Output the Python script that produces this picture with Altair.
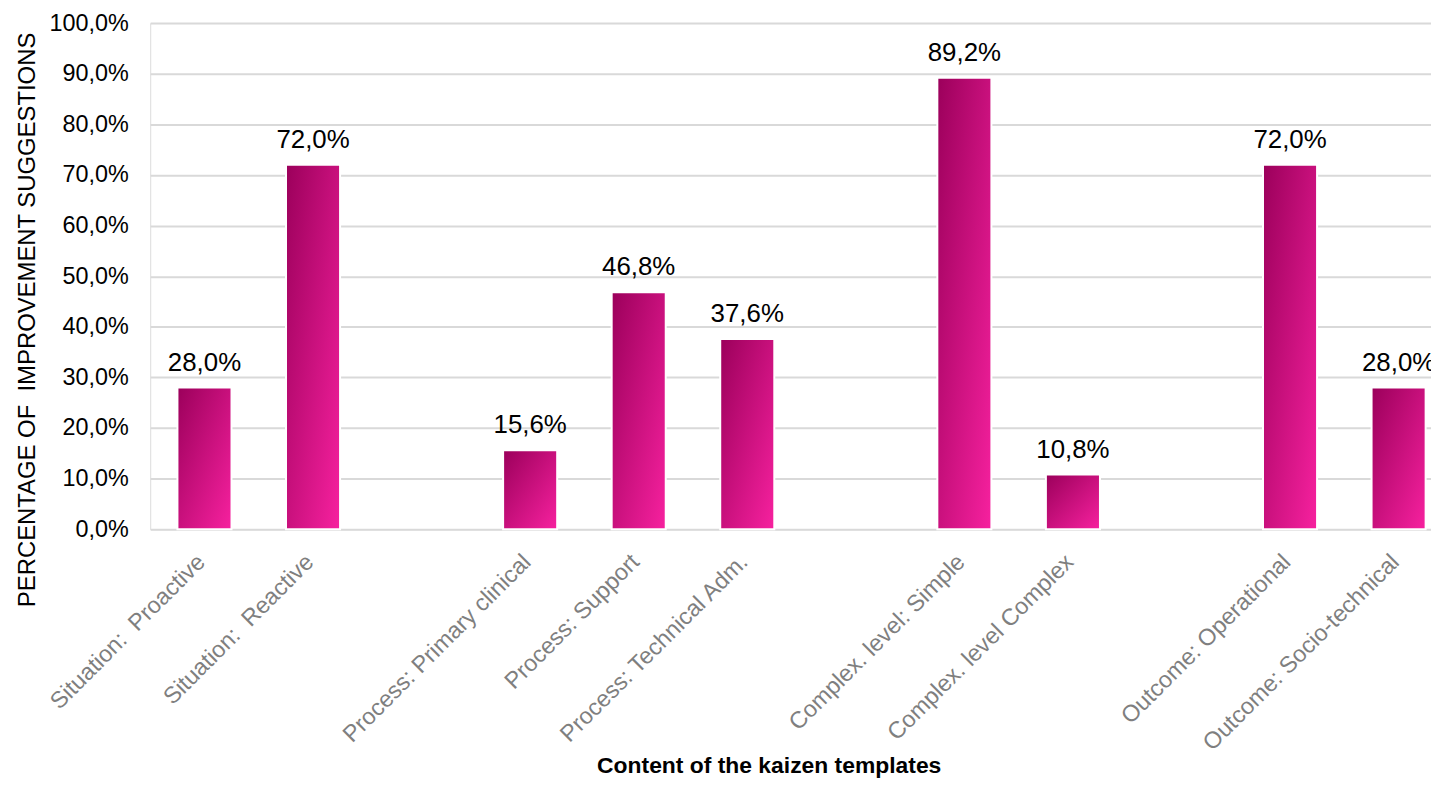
import altair as alt
import pandas as pd

NBSP = "\u00a0"

# ---- data ----
categories = [
    "Situation: " + NBSP + "Proactive",
    "Situation: " + NBSP + "Reactive",
    "Process: Primary clinical",
    "Process: Support",
    "Process: Technical Adm.",
    "Complex. level: Simple",
    "Complex. level Complex",
    "Outcome: Operational",
    "Outcome: Socio-technical",
]
values = [28.0, 72.0, 15.6, 46.8, 37.6, 89.2, 10.8, 72.0, 28.0]

# category order on the axis, with empty slots between the groups
slot_order = [
    categories[0],
    categories[1],
    "gap1",
    categories[2],
    categories[3],
    categories[4],
    "gap2",
    categories[5],
    categories[6],
    "gap3",
    categories[7],
    categories[8],
]
y_ticks = [0, 10, 20, 30, 40, 50, 60, 70, 80, 90, 100]

df = pd.DataFrame({"category": categories, "value": values})

FONT = "Liberation Sans"

x_enc = alt.X(
    "category:N",
    scale=alt.Scale(domain=slot_order, range=[0, 1310], paddingInner=0.502, paddingOuter=0.251),
    axis=alt.Axis(
        values=categories,
        title="Content of the kaizen templates",
        titleFont=FONT,
        titleFontSize=23,
        titleFontWeight="bold",
        titleColor="black",
        titleX=622,
        titleY=245,
        titleAlign="center",
        titleBaseline="alphabetic",
        labelFont=FONT,
        labelFontSize=23.5,
        labelColor="#7f7f7f",
        labelAngle=315,
        labelAlign="right",
        labelBaseline="middle",
        labelPadding=29,
        labelOffset=-3,
        labelLimit=500,
        labelOverlap=False,
        ticks=False,
        domain=False,
        grid=False,
    ),
)

y_enc = alt.Y(
    "value:Q",
    scale=alt.Scale(domain=[0, 100]),
    axis=alt.Axis(
        values=y_ticks,
        labelExpr="replace(format(datum.value, '.1f'), '.', ',') + '%'",
        labelFont=FONT,
        labelFontSize=23.5,
        labelColor="black",
        labelPadding=22,
        ticks=False,
        domain=False,
        gridColor="#d9d9d9",
        gridWidth=2,
        title="PERCENTAGE OF " + NBSP + "IMPROVEMENT SUGGESTIONS",
        titleFont=FONT,
        titleFontSize=24,
        titleFontWeight="normal",
        titleColor="black",
        titleAngle=270,
        titleX=-123,
        titleY=298,
        titleAlign="center",
        titleBaseline="middle",
    ),
)

bars = alt.Chart(df).mark_bar(
    fill=alt.Gradient(
        gradient="linear",
        x1=0, y1=0, x2=1, y2=1,
        stops=[
            alt.GradientStop(color="#9B005B", offset=0),
            alt.GradientStop(color="#F7219F", offset=1),
        ],
    ),
    stroke="white",
    strokeWidth=2,
).encode(x=x_enc, y=y_enc)

labels = alt.Chart(df).transform_calculate(
    label="replace(format(datum.value, '.1f'), '.', ',') + '%'"
).mark_text(
    font=FONT,
    fontSize=26,
    dy=-17,
    baseline="alphabetic",
    align="center",
    color="black",
).encode(x=x_enc, y=y_enc, text="label:N")

chart = alt.layer(bars, labels).properties(
    width=1288,
    height=509,
    autosize=alt.AutoSizeParams(type="none"),
    padding={"left": 143, "top": 13, "right": 0, "bottom": 252},
).configure_view(stroke=None).configure(background="white")

chart.save("out.html", embed_options={"renderer": "svg", "actions": False})
